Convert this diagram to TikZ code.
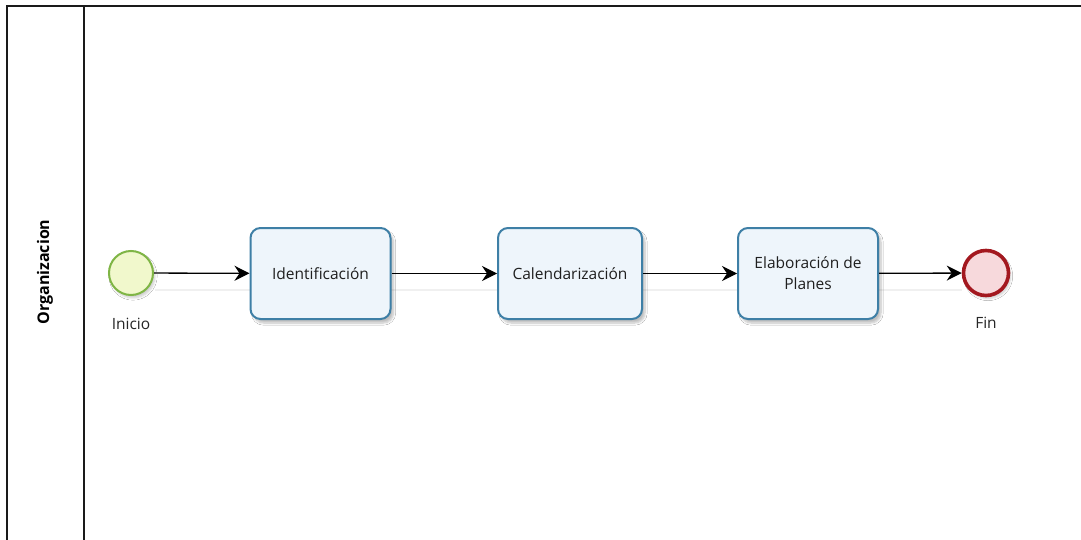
\documentclass[tikz,border=0pt]{standalone}
\usepackage{fontspec}
\setmainfont{Open Sans}
\usetikzlibrary{arrows.meta,shadows.blur}
\definecolor{taskline}{HTML}{3E7FA6}
\definecolor{taskfill}{HTML}{EEF5FB}
\definecolor{startline}{HTML}{7FB545}
\definecolor{startfill}{HTML}{F1F8CC}
\definecolor{endline}{HTML}{A3181F}
\definecolor{endfill}{HTML}{F7D9DC}
\definecolor{poolline}{HTML}{1A1A1A}
\tikzset{
  poolborder/.style={draw=poolline, line width=1.8pt},
  task/.style={draw=taskline, line width=2pt, fill=taskfill, rounded corners=10pt,
    minimum width=140pt, minimum height=91pt, align=center, inner sep=2pt,
    font=\fontsize{15.5}{21}\selectfont, text=black!88,
    blur shadow={shadow xshift=3pt, shadow yshift=-4pt, shadow blur steps=6, shadow opacity=25}},
  startev/.style={circle, draw=startline, line width=2pt, fill=startfill, minimum size=44pt, inner sep=0pt,
    blur shadow={shadow xshift=2pt, shadow yshift=-3pt, shadow blur steps=5, shadow opacity=20}},
  endev/.style={circle, draw=endline, line width=3.6pt, fill=endfill, minimum size=45pt, inner sep=0pt,
    blur shadow={shadow xshift=2pt, shadow yshift=-3pt, shadow blur steps=5, shadow opacity=20}},
  evlabel/.style={font=\fontsize{15.5}{18}\selectfont, text=black!85},
  flow/.style={draw=black, line width=1.3pt, -{Stealth[length=15pt, width=15pt, inset=5pt]}},
  flowshade/.style={draw=black!6, line width=1.2pt},
  lanelabel/.style={rotate=90, font=\bfseries\fontsize{16}{18}\selectfont}
}
\begin{document}
\begin{tikzpicture}[x=1pt,y=-1pt]
\useasboundingbox (0,0) rectangle (1081,540);
\fill[white] (0,0) rectangle (1081,540);

% pool frame and lane header
\draw[poolborder] (1081,6) -- (7,6) -- (7,540);
\draw[poolborder] (84,6) -- (84,540);
\node[lanelabel] (lane) at (45,272) {Organizacion};

% faint connector shadows
\coordinate (s1a) at (155,290); \coordinate (s1b) at (250,290);
\coordinate (s2a) at (391,290); \coordinate (s2b) at (497,290);
\coordinate (s3a) at (643,290); \coordinate (s3b) at (738,290);
\coordinate (s4a) at (878,290); \coordinate (s4b) at (962,290);
\draw[flowshade] (s1a) -- (s1b);
\draw[flowshade] (s2a) -- (s2b);
\draw[flowshade] (s3a) -- (s3b);
\draw[flowshade] (s4a) -- (s4b);

% events and tasks
\node[startev] (start) at (131,273) {};
\node[evlabel] (startlbl) at (131,324) {Inicio};
\node[task] (t1) at (320.5,273.5) {Identificación};
\node[task, minimum width=144pt] (t2) at (570,273.5) {Calendarización};
\node[task] (t3) at (808,273.5) {Elaboración de\\Planes};
\node[endev] (end) at (986,273) {};
\node[evlabel] (endlbl) at (986,323) {Fin};

% sequence flows
\draw[flow] (start) -- (t1);
\draw[flow] (t1) -- (t2);
\draw[flow] (t2) -- (t3);
\draw[flow] (t3) -- (end);
\end{tikzpicture}
\end{document}
